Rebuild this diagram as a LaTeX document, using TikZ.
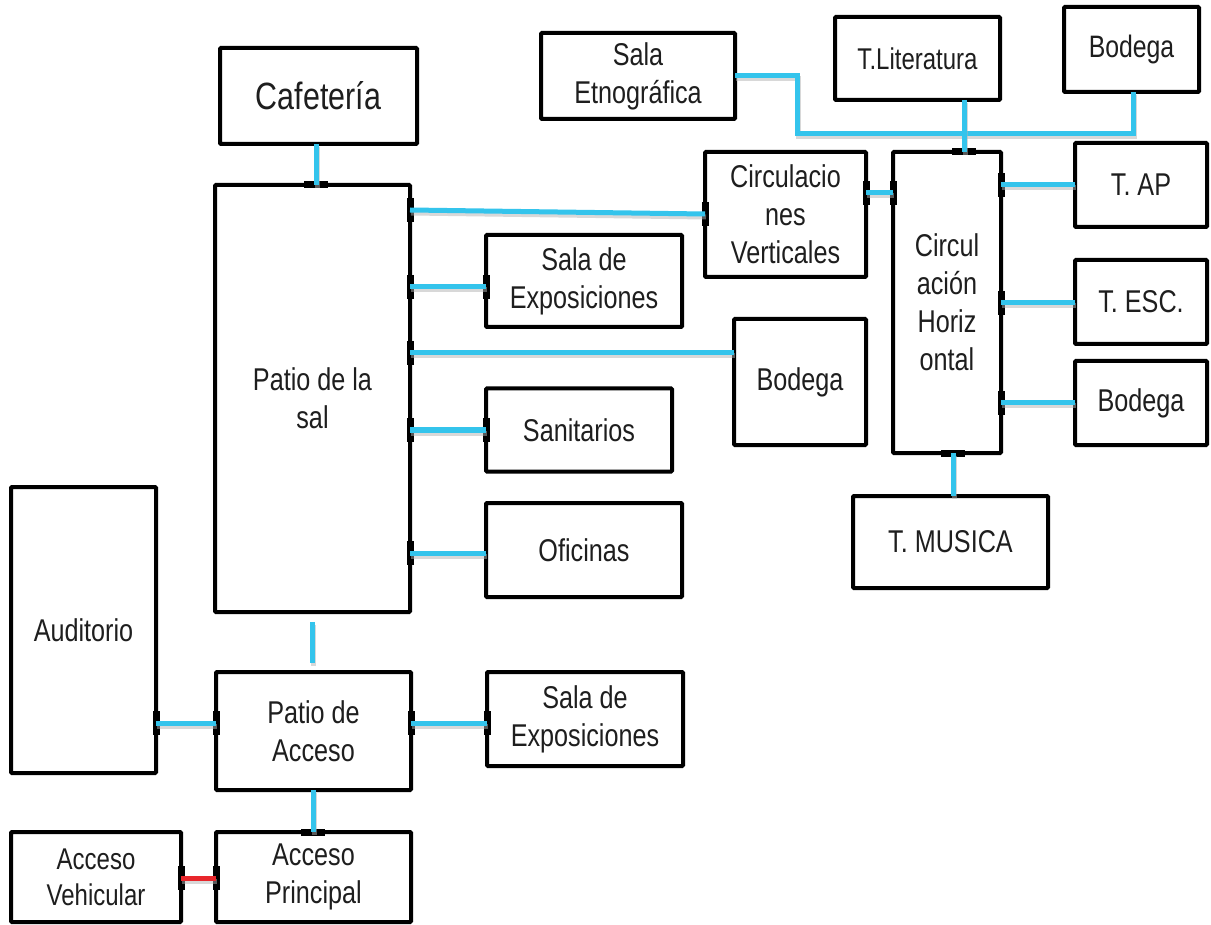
\documentclass[tikz,border=0pt]{standalone}
\usepackage{fontspec}
\setmainfont{Liberation Sans}[FakeStretch=0.8]
\usetikzlibrary{calc}
\definecolor{linkblue}{HTML}{34C4EC}
\definecolor{linkred}{HTML}{E8262B}
\definecolor{txt}{HTML}{1E1E1E}
\tikzset{
  box/.style={draw=black, line width=4pt, fill=white, rounded corners=1pt, outer sep=0pt,
    inner sep=2pt, align=center, text=txt, font=\fontsize{31.5}{38}\selectfont},
  link/.style={draw=linkblue, line width=5pt},
  redlink/.style={draw=linkred, line width=5pt},
  shade/.style={draw=black!30, line width=5pt, opacity=0.5, transform canvas={shift={(1pt,-3pt)}}},
  joint/.style={draw=black, line width=7pt},
}
% connector with a soft shadow
\newcommand{\wire}[2][link]{%
  \draw[shade] #2; \draw[#1] #2;}
% thickened wall where a connector meets a box: on a vertical or a horizontal edge
\newcommand{\vjoint}[1]{\draw[joint] ($#1+(0,-12)$) -- ($#1+(0,12)$);}
\newcommand{\hjoint}[1]{\draw[joint] ($#1+(-12,0)$) -- ($#1+(12,0)$);}
\begin{document}
\begin{tikzpicture}[x=1pt,y=-1pt]
\useasboundingbox (0,0) rectangle (1211,925);
\fill[white] (0,0) rectangle (1211,925);

% rooms
\node[box, minimum width=197, minimum height=96, font=\fontsize{38}{44}\selectfont] (caf) at (318.5,96) {Cafetería};
\node[box, minimum width=195, minimum height=427] (patio) at (312.5,398.5) {Patio de la\\sal};
\node[box, minimum width=196, minimum height=92] (expa) at (584,281) {Sala de\\Exposiciones};
\node[box, minimum width=186, minimum height=83] (sanit) at (579,430) {Sanitarios};
\node[box, minimum width=196, minimum height=94] (ofic) at (584,550) {Oficinas};
\node[box, minimum width=161, minimum height=125] (circv) at (785.5,214.5) {Circulacio\\nes\\Verticales};
\node[box, minimum width=132, minimum height=126] (bodc) at (800,382) {Bodega};
\node[box, minimum width=108, minimum height=301] (circh) at (947,302.5) {Circul\\ación\\Horiz\\ontal};
\node[box, minimum width=132, minimum height=84] (tap) at (1141,185) {T. AP};
\node[box, minimum width=132, minimum height=84] (tesc) at (1141,302) {T. ESC.};
\node[box, minimum width=132, minimum height=84] (bodr) at (1141,403) {Bodega};
\node[box, minimum width=195, minimum height=92] (tmus) at (950.5,542) {T. MUSICA};
\node[box, minimum width=194, minimum height=86] (etno) at (638,76) {Sala\\Etnográfica};
\node[box, minimum width=165, minimum height=83, font=\fontsize{30}{36}\selectfont] (tlit) at (917.5,58.5) {T.Literatura};
\node[box, minimum width=135, minimum height=85, font=\fontsize{31}{36}\selectfont] (bodt) at (1131.5,49.5) {\raisebox{6pt}{Bodega}};
\node[box, minimum width=145, minimum height=286] (aud) at (83.5,630) {Auditorio};
\node[box, minimum width=195, minimum height=118] (pacc) at (313.5,731) {Patio de\\Acceso};
\node[box, minimum width=196, minimum height=94] (expb) at (585,719) {Sala de\\Exposiciones};
\node[box, minimum width=195, minimum height=90] (accp) at (313.5,877) {Acceso\\Principal};
\node[box, minimum width=170, minimum height=90, font=\fontsize{30}{36}\selectfont] (accv) at (96,877) {Acceso\\Vehicular};

% joints on the walls
\hjoint{(patio.north -| 316,0)}
\vjoint{(patio.east |- 0,210)} \vjoint{(circv.west |- 0,214)}
\vjoint{(patio.east |- 0,287)} \vjoint{(expa.west |- 0,287)}
\vjoint{(patio.east |- 0,353)}
\vjoint{(patio.east |- 0,430)} \vjoint{(sanit.west |- 0,430)}
\vjoint{(patio.east |- 0,553)}
\vjoint{(circv.east |- 0,193)} \vjoint{(circh.west |- 0,193)}
\vjoint{(circh.east |- 0,185)} \vjoint{(circh.east |- 0,303)} \vjoint{(circh.east |- 0,403)}
\hjoint{(circh.south -| 953,0)} \hjoint{(circh.north -| 964,0)}
\vjoint{(aud.east |- 0,723)} \vjoint{(pacc.west |- 0,723)}
\vjoint{(pacc.east |- 0,723)} \vjoint{(expb.west |- 0,723)}
\hjoint{(accp.north -| 313,0)}
\vjoint{(accv.east |- 0,878)} \vjoint{(accp.west |- 0,878)}

% links
\wire{(caf.south -| 316,0) -- (patio.north -| 316,0)}
\wire{(patio.east |- 0,210) -- (circv.west |- 0,214)}
\wire{(patio.east |- 0,287) -- (expa.west |- 0,287)}
\wire{(patio.east |- 0,353) -- (bodc.west |- 0,353)}
\wire{(patio.east |- 0,430) -- (sanit.west |- 0,430)}
\wire{(patio.east |- 0,553) -- (ofic.west |- 0,553)}
\wire{(circv.east |- 0,193) -- (circh.west |- 0,193)}
\wire{(circh.east |- 0,185) -- (tap.west |- 0,185)}
\wire{(circh.east |- 0,303) -- (tesc.west |- 0,303)}
\wire{(circh.east |- 0,403) -- (bodr.west |- 0,403)}
\wire{(circh.south -| 953,0) -- (tmus.north -| 953,0)}
\wire{(etno.east |- 0,76) -| (797,134) -| (bodt.south -| 1133,0)}
\wire{(tlit.south -| 964,0) -- (circh.north -| 964,0)}
\wire{[shorten <=10pt, shorten >=9pt] (patio.south -| 312,0) -- (pacc.north -| 312,0)}
\wire{(aud.east |- 0,723) -- (pacc.west |- 0,723)}
\wire{(pacc.east |- 0,723) -- (expb.west |- 0,723)}
\wire{(pacc.south -| 313,0) -- (accp.north -| 313,0)}
\wire[redlink]{(accv.east |- 0,878) -- (accp.west |- 0,878)}
\end{tikzpicture}
\end{document}
